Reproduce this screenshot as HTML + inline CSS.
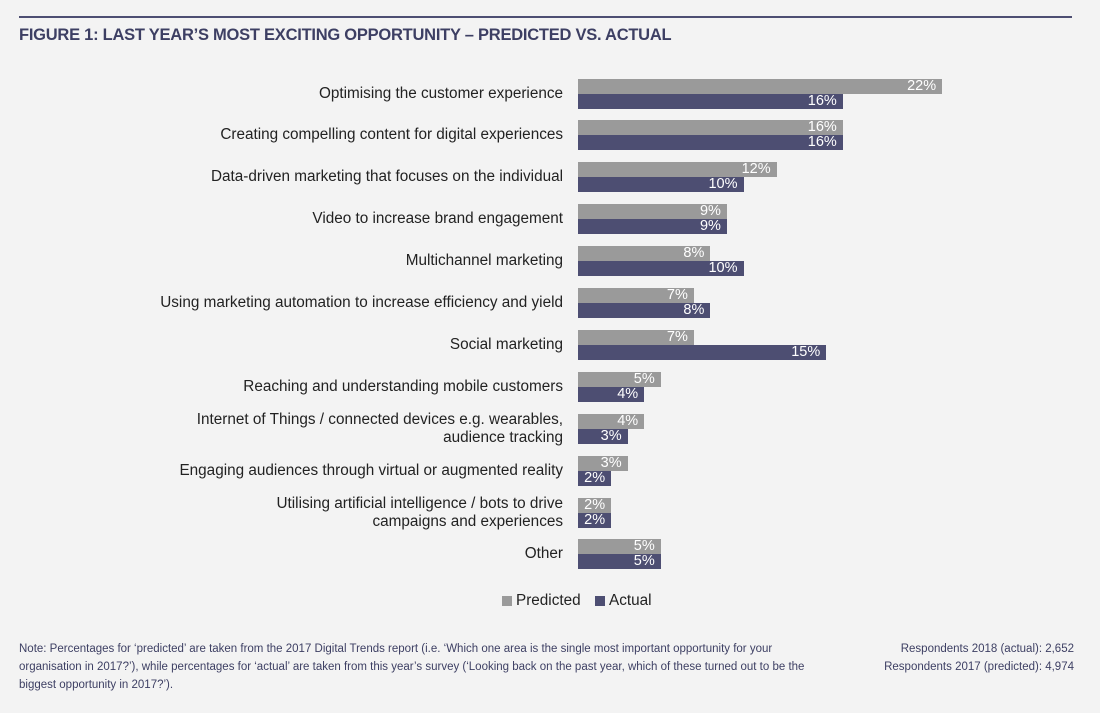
<!DOCTYPE html>
<html><head><meta charset="utf-8"><style>
body{margin:0;width:1100px;height:713px;background:#f3f3f3;font-family:"Liberation Sans",sans-serif;position:relative;overflow:hidden}
.a{position:absolute}
.lab{position:absolute;right:537px;width:440px;text-align:right;font-size:15.3px;color:#222;line-height:18px}
.bar{position:absolute;left:578px;height:15px;color:#fff;font-size:14.5px;line-height:15px;text-align:right;box-sizing:border-box;padding-right:6px}
.p{background:#9a9a9a}.q{background:#4d4e72}
.note{font-size:11.5px;color:#3d3f63;line-height:18px}
</style></head><body>
<div class="a" style="left:19px;top:16px;width:1053px;height:2px;background:#4d4e72"></div>
<div class="a" style="left:19px;top:26px;font-size:16.5px;font-weight:bold;color:#3d3f63;letter-spacing:-0.25px">FIGURE 1: LAST YEAR’S MOST EXCITING OPPORTUNITY – PREDICTED VS. ACTUAL</div>
<div id="c"></div>
<script>
var d=[["Optimising the customer experience",22,16],["Creating compelling content for digital experiences",16,16],["Data-driven marketing that focuses on the individual",12,10],["Video to increase brand engagement",9,9],["Multichannel marketing",8,10],["Using marketing automation to increase efficiency and yield",7,8],["Social marketing",7,15],["Reaching and understanding mobile customers",5,4],["Internet of Things / connected devices e.g. wearables,<br>audience tracking",4,3],["Engaging audiences through virtual or augmented reality",3,2],["Utilising artificial intelligence / bots to drive<br>campaigns and experiences",2,2],["Other",5,5]];
var h="";d.forEach(function(r,i){var y=78.5+i*41.9;var two=r[0].indexOf("<br>")>0;
h+='<div class="lab" style="top:'+(two?y-3:y+6)+'px">'+r[0]+'</div>';
h+='<div class="bar p" style="top:'+y+'px;width:'+(r[1]*16.55)+'px">'+r[1]+'%</div>';
h+='<div class="bar q" style="top:'+(y+15)+'px;width:'+(r[2]*16.55)+'px">'+r[2]+'%</div>';});
document.getElementById("c").innerHTML=h;
</script>
<div class="a" style="left:502px;top:596px;width:10px;height:10px;background:#9a9a9a"></div>
<div class="a" style="left:516px;top:592px;font-size:15.3px;color:#222">Predicted</div>
<div class="a" style="left:595px;top:596px;width:10px;height:10px;background:#4d4e72"></div>
<div class="a" style="left:609px;top:592px;font-size:15.3px;color:#222">Actual</div>
<div class="a note" style="left:19px;top:640px;width:790px">Note: Percentages for ‘predicted’ are taken from the 2017 Digital Trends report (i.e. ‘Which one area is the single most important opportunity for your organisation in 2017?’), while percentages for ‘actual’ are taken from this year’s survey (‘Looking back on the past year, which of these turned out to be the biggest opportunity in 2017?’).</div>
<div class="a note" style="right:26px;top:640px;text-align:right">Respondents 2018 (actual): 2,652<br>Respondents 2017 (predicted): 4,974</div>
</body></html>
